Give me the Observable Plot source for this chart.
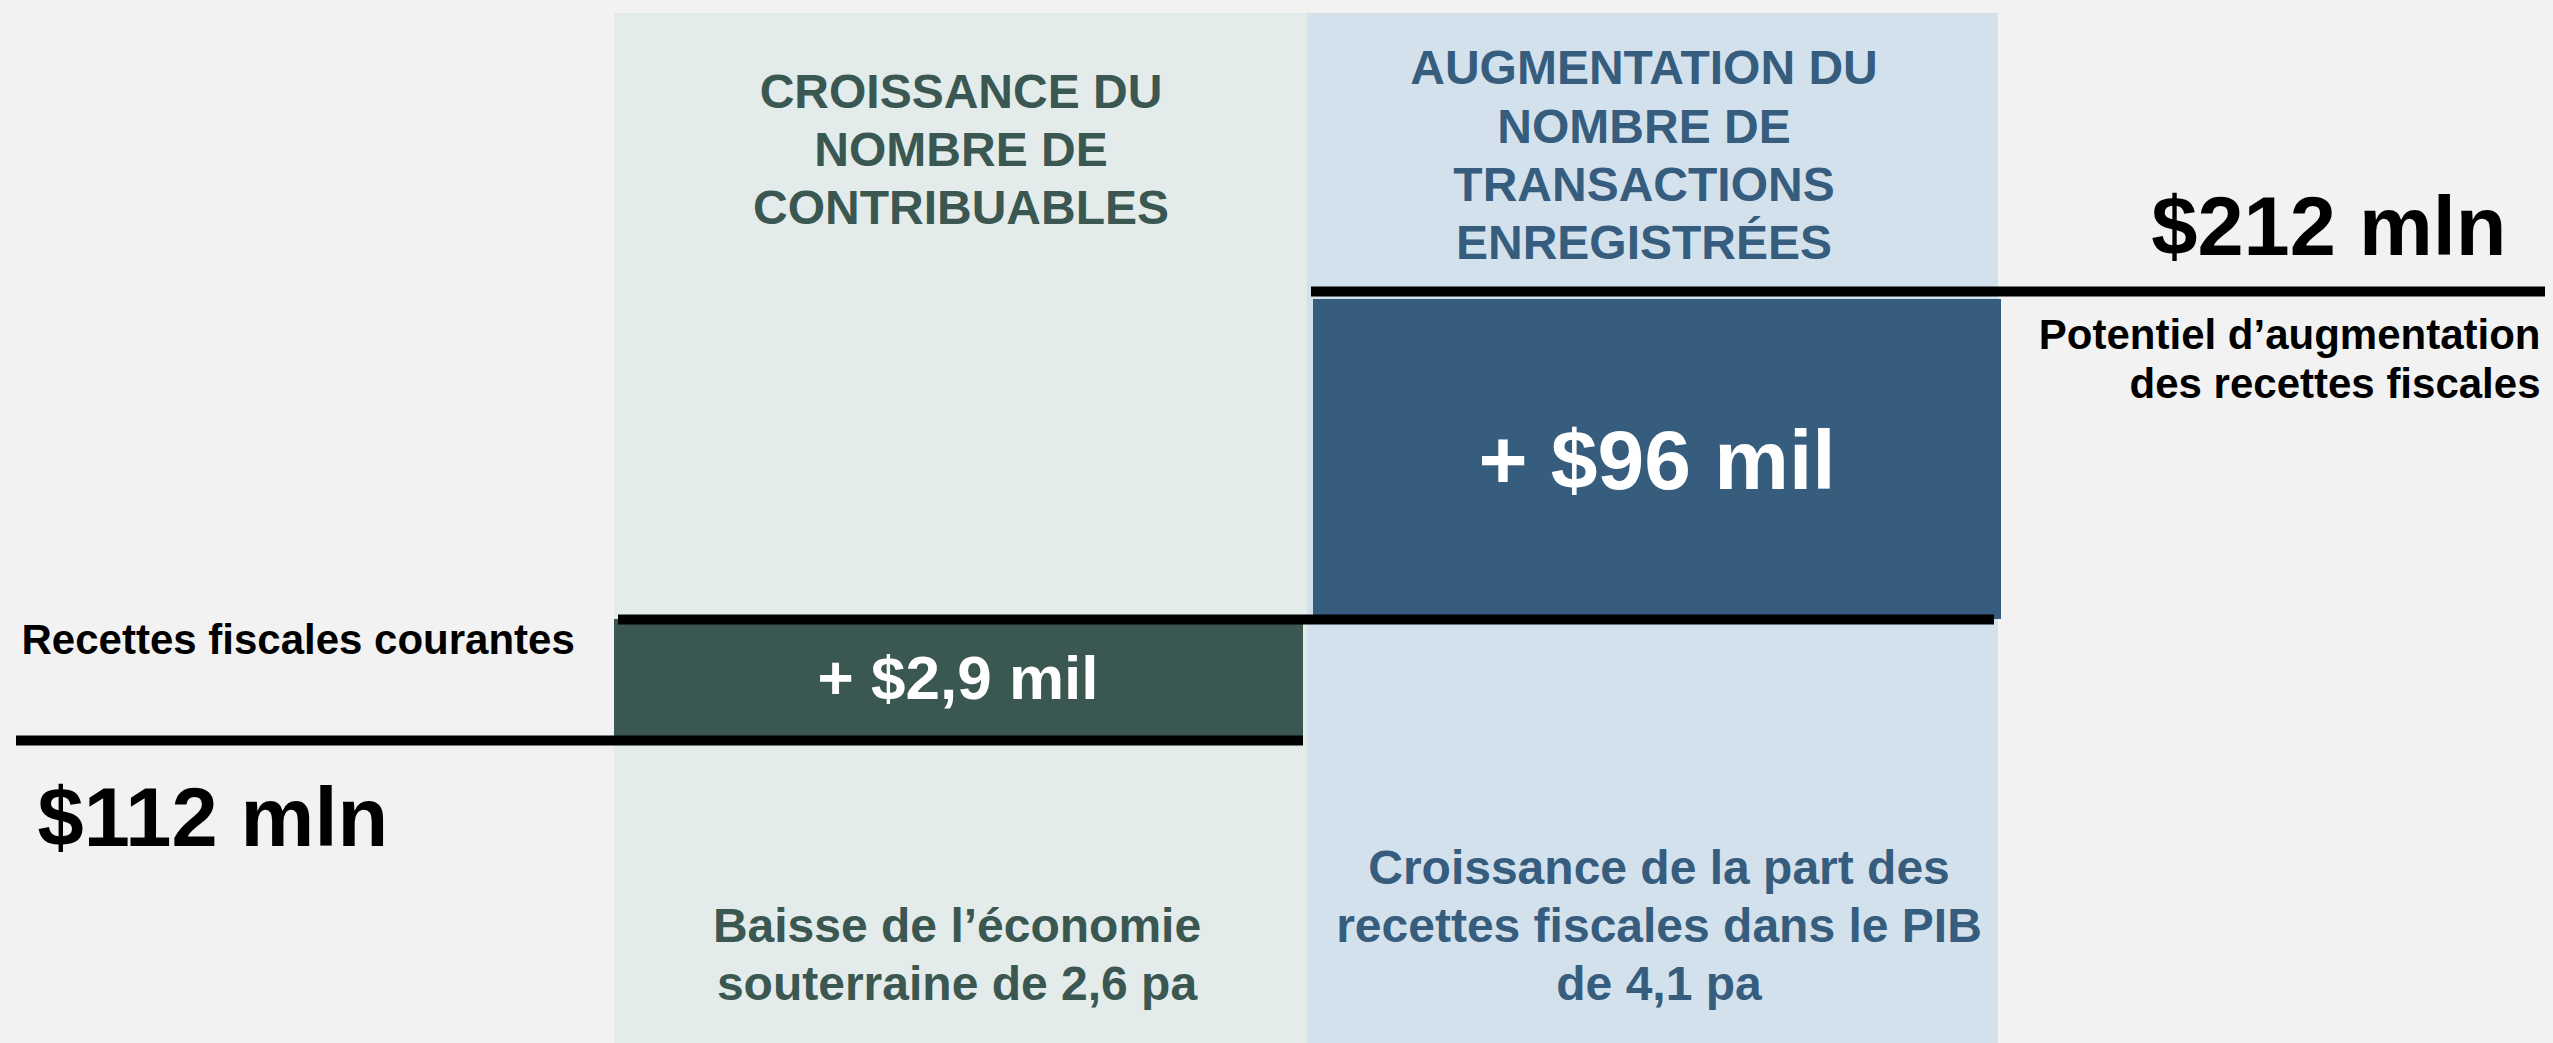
<!DOCTYPE html>
<html>
<head>
<meta charset="utf-8">
<script src="https://cdn.jsdelivr.net/npm/d3@7"></script>
<script src="https://cdn.jsdelivr.net/npm/@observablehq/plot@0.6"></script>
<style>
  html, body { margin: 0; padding: 0; background: #f2f2f2; }
  #chart svg { display: block; }
</style>
</head>
<body>
<div id="chart"></div>
<script>
// ---- Data ----
const baseValue = 112;                 // recettes fiscales courantes, $ mln
const totalValue = 212;                // potentiel, $ mln
const baseLabel = "Recettes fiscales courantes";
const baseValueLabel = "$112 mln";
const totalLabel = "Potentiel d’augmentation\ndes recettes fiscales";
const totalValueLabel = "$212 mln";

const stepTitles = [
  "CROISSANCE DU\nNOMBRE DE\nCONTRIBUABLES",
  "AUGMENTATION DU\nNOMBRE DE\nTRANSACTIONS\nENREGISTRÉES"
];
const stepValues = [2.9, 96];
const stepValueLabels = ["+ $2,9 mil", "+ $96 mil"];
const stepNotes = [
  "Baisse de l’économie\nsouterraine de 2,6 pa",
  "Croissance de la part des\nrecettes fiscales dans le PIB\nde 4,1 pa"
];

// ---- Styles ----
const panelColors = ["#e3ecea", "#d3e1ec"];
const boxColors = ["#3b5751", "#365d7e"];
const font = "'Liberation Sans', Arial, Helvetica, sans-serif";

// ---- Build waterfall steps ----
let acc = baseValue;
const steps = stepValues.map((v, i) => {
  const start = acc;
  acc += v;
  return {col: i + 1, start, end: acc, title: stepTitles[i], label: stepValueLabels[i], note: stepNotes[i],
          panel: panelColors[i], box: boxColors[i]};
});

const W = 2553, H = 1043;
const yTop = 260;

// schematic (not-to-scale) layout: piecewise transforms applied by the scales
const xLayout = d3.scaleLinear().domain([0, 1, 2, 3, 4]).range([0, 614, 1307, 1998, W]);
const yLayout = d3.scaleLinear()
  .domain([0, baseValue, steps[0].end, steps[1].end, totalValue, yTop])
  .range([0, H - 740, H - 619, H - 299, H - 291, H]);

const marks = [];

// background panels for each step column
marks.push(Plot.rect(steps, {
  x1: d => d.col, x2: d => d.col + 1, y1: 0, y2: yTop,
  insetTop: 13, fill: d => d.panel
}));

// step boxes
marks.push(Plot.rect([steps[0]], {
  x1: d => d.col, x2: d => d.col + 1, y1: d => d.start, y2: d => d.end,
  insetRight: 4, fill: d => d.box
}));
marks.push(Plot.rect([steps[1]], {
  x1: d => d.col, x2: d => d.col + 1, y1: d => d.start, y2: d => d.end,
  insetLeft: 6, insetRight: -3, fill: d => d.box
}));

// connector lines
marks.push(Plot.ruleY([baseValue], {x1: 0, x2: 2, stroke: "#000", strokeWidth: 10, insetLeft: 16, insetRight: 4}));
marks.push(Plot.ruleY([steps[0].end], {x1: 1, x2: 3, stroke: "#000", strokeWidth: 10, insetLeft: 4, insetRight: 4}));
marks.push(Plot.ruleY([totalValue], {x1: 2, x2: 4, stroke: "#000", strokeWidth: 10, insetLeft: 4, insetRight: 8}));

// values inside boxes
marks.push(Plot.text([steps[0]], {
  x: d => d.col + 0.5, y: d => (d.start + d.end) / 2, text: d => d.label,
  fill: "white", fontSize: 62, fontWeight: "bold", lineAnchor: "middle", dx: -3, dy: -1
}));
marks.push(Plot.text([steps[1]], {
  x: d => d.col + 0.5, y: d => (d.start + d.end) / 2, text: d => d.label,
  fill: "white", fontSize: 84, fontWeight: "bold", lineAnchor: "middle", dx: 4, dy: 3
}));

// column titles
marks.push(Plot.text([steps[0]], {
  x: d => d.col + 0.5, frameAnchor: "top", text: d => d.title, fill: d => d.box,
  fontSize: 48, fontWeight: "bold", lineAnchor: "middle", lineHeight: 1.21, dy: 146.5
}));
marks.push(Plot.text([steps[1]], {
  x: d => d.col + 0.5, frameAnchor: "top", text: d => d.title, fill: d => d.box,
  fontSize: 48, fontWeight: "bold", lineAnchor: "middle", lineHeight: 1.21, dy: 152.5, dx: -9
}));

// column notes
marks.push(Plot.text([steps[0]], {
  x: d => d.col + 0.5, frameAnchor: "bottom", text: d => d.note, fill: d => d.box,
  fontSize: 48, fontWeight: "bold", lineAnchor: "bottom", lineHeight: 1.2, dy: -44, dx: -4
}));
marks.push(Plot.text([steps[1]], {
  x: d => d.col + 0.5, frameAnchor: "bottom", text: d => d.note, fill: d => d.box,
  fontSize: 48, fontWeight: "bold", lineAnchor: "bottom", lineHeight: 1.2, dy: -44, dx: 6
}));

// base labels (left)
marks.push(Plot.text([baseLabel], {
  x: 0, y: baseValue, text: d => d, textAnchor: "start", lineAnchor: "bottom",
  fontSize: 42, fontWeight: "bold", fill: "#000", dx: 21, dy: -87
}));
marks.push(Plot.text([baseValueLabel], {
  x: 0, y: baseValue, text: d => d, textAnchor: "start", lineAnchor: "bottom",
  fontSize: 83, fontWeight: "bold", fill: "#000", dx: 37, dy: 105
}));

// total labels (right)
marks.push(Plot.text([totalValueLabel], {
  x: 4, y: totalValue, text: d => d, textAnchor: "end", lineAnchor: "bottom",
  fontSize: 83, fontWeight: "bold", fill: "#000", dx: -47, dy: -37
}));
marks.push(Plot.text([totalLabel], {
  x: 4, y: totalValue, text: d => d, textAnchor: "end", lineAnchor: "top",
  fontSize: 42, fontWeight: "bold", fill: "#000", lineHeight: 1.19, dx: -13, dy: 21.5
}));

const chart = Plot.plot({
  width: W,
  height: H,
  margin: 0,
  style: {background: "#f2f2f2", fontFamily: font, overflow: "visible"},
  x: {axis: null, transform: xLayout, domain: [0, W], range: [0, W]},
  y: {axis: null, transform: yLayout, domain: [0, H], range: [H, 0]},
  color: {type: "identity"},
  marks
});
document.getElementById("chart").appendChild(chart);
</script>
</body>
</html>
